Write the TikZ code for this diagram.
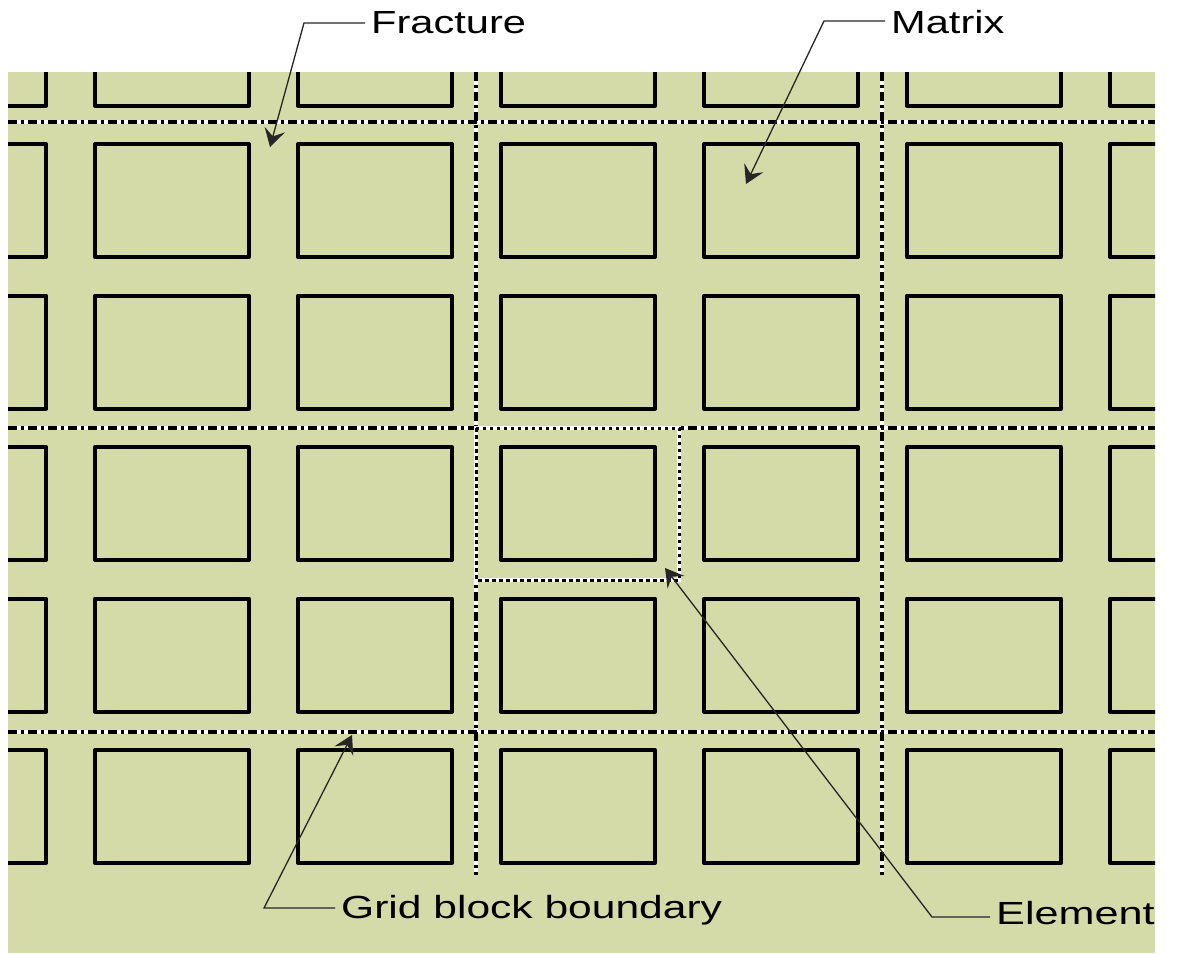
\documentclass[tikz,border=0pt]{standalone}
\usepackage{fontspec}
\setmainfont{Liberation Sans}
\usetikzlibrary{
  arrows.meta,
  positioning
}
\definecolor{matrixgreen}{RGB}{212,219,168}

\begin{document}
\begin{tikzpicture}[x=1pt,y=-1pt,
  matrixbox/.style={draw=black, line width=4pt, line join=round},
  underlay/.style={draw=white, line width=4.5pt},
  blockline/.style={draw=black, line width=3.2pt, dash pattern=on 9pt off 4pt on 3pt off 4pt},
  elemline/.style={draw=black, line width=3pt, dash pattern=on 3.5pt off 3.5pt},
  lbl/.style={font=\fontsize{32}{38}\selectfont, inner sep=6pt, anchor=base west},
  leader/.style={draw=black!85, line width=1.3pt, -{Stealth[length=18pt,width=21pt,inset=7pt]}}
]
  \useasboundingbox (0,0) rectangle (1191,953);

  % background
  \fill[matrixgreen] (8,72) rectangle (1155,953);

  % matrix blocks
  \begin{scope}
    \clip (8,72) rectangle (1155,953);
    \foreach \c in {0,...,6}
      \foreach \r in {0,...,5}
        \draw[matrixbox] ({95+(\c-1)*203},{144+(\r-1)*151.5}) rectangle ++(154,113);
  \end{scope}

  % grid block boundaries (fractures)
  \foreach \yy in {122,428,732}
    \draw[underlay] (8,\yy) -- (1155,\yy);
  \foreach \xx in {476,882}
    \draw[underlay] (\xx,72) -- (\xx,875);
  \foreach \yy in {122,428,732}
    \draw[blockline] (8,\yy) -- (1155,\yy);
  \foreach \xx in {476,882}
    \draw[blockline] (\xx,72) -- (\xx,875);

  % element
  \draw[underlay] (476,428) rectangle (679,580);
  \draw[elemline] (476,428) rectangle (679,580);

  % labels
  \node[lbl] (fracture) at (365,33) {\scalebox{1.3}[1]{Fracture}};
  \node[lbl] (matrix) at (885,33) {\scalebox{1.3}[1]{Matrix}};
  \node[lbl] (gridblock) at (335,918) {\scalebox{1.33}[1]{Grid block boundary}};
  \node[lbl] (element) at (990,924) {\scalebox{1.35}[1]{Element}};

  \coordinate (fracturebend) at (304,23);
  \coordinate (fracturetip) at (270,147);
  \coordinate (matrixbend) at (824,21);
  \coordinate (matrixtip) at (746,184);
  \coordinate (gridbend) at (264,908);
  \coordinate (gridtip) at (352,735);
  \coordinate (elementbend) at (932,917);
  \coordinate (elementtip) at (665,568);

  \draw[leader] (fracture.west |- fracturebend) -- (fracturebend) -- (fracturetip);
  \draw[leader] (matrix.west |- matrixbend) -- (matrixbend) -- (matrixtip);
  \draw[leader] (gridblock.west |- gridbend) -- (gridbend) -- (gridtip);
  \draw[leader] (element.west |- elementbend) -- (elementbend) -- (elementtip);

\end{tikzpicture}
\end{document}
